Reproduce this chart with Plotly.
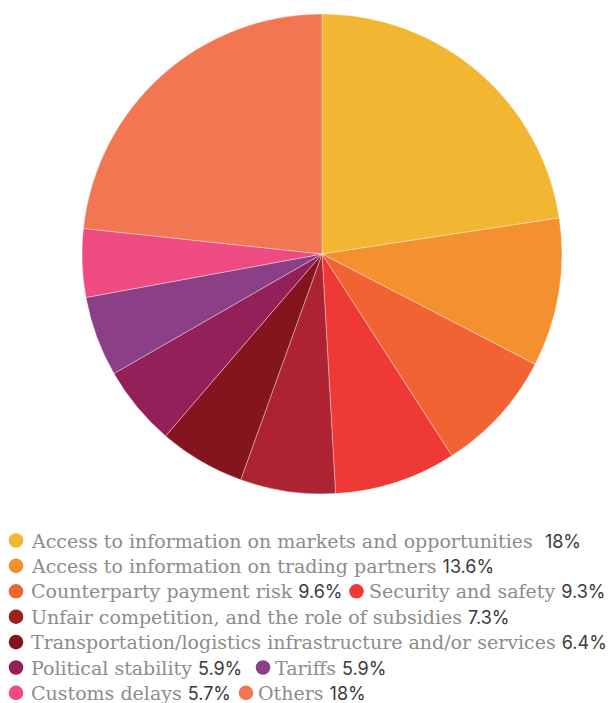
import plotly.graph_objects as go

# Data
categories = [
    "Access to information on markets and opportunities",
    "Access to information on trading partners",
    "Counterparty payment risk",
    "Security and safety",
    "Unfair competition, and the role of subsidies",
    "Transportation/logistics infrastructure and/or services",
    "Political stability",
    "Tariffs",
    "Customs delays",
    "Others",
]
# slice sizes as drawn in the picture (percent of circle)
slice_values = [22.6, 10.0, 8.3, 8.2, 6.4, 5.8, 5.4, 5.4, 4.6, 23.3]
# percentages printed in the legend
legend_labels = ["18%", "13.6%", "9.6%", "9.3%", "7.3%", "6.4%", "5.9%", "5.9%", "5.7%", "18%"]
colors = ["#F3B633", "#F59031", "#F26333", "#EF3936", "#AE2331",
          "#84151F", "#94205A", "#8A3F87", "#EE4B82", "#F27652"]
marker_colors = ["#F3B633", "#F59031", "#F26333", "#EF3936", "#A01D22",
                 "#84151F", "#94205A", "#8A3F87", "#EE4B82", "#F27652"]

W, H = 608, 703

fig = go.Figure()
fig.add_trace(go.Pie(
    labels=categories,
    values=slice_values,
    sort=False,
    direction="clockwise",
    rotation=0,
    marker=dict(colors=colors, line=dict(color="rgba(255,255,255,0.6)", width=0.6)),
    textinfo="none",
    hoverinfo="label+percent",
    showlegend=False,
    domain=dict(x=[82 / W, 562 / W], y=[1 - 494 / H, 1 - 14 / H]),
))

# legend layout: (row, marker center x, text start x) for each category
rows = [(0, 16, 29), (1, 16, 29), (2, 16, 29), (2, 356.5, 367), (3, 16, 29),
        (4, 16, 29), (5, 16, 29), (5, 263, 273), (6, 16, 29), (6, 246, 256)]
row_y0, row_dy = 540.5, 25.4
r = 7.3
label_font = "DejaVu Serif"
pct_font = "Inter"

shapes = []
annotations = []
for i, (row, cx, tx) in enumerate(rows):
    cy = row_y0 + row * row_dy
    shapes.append(dict(type="circle", xref="paper", yref="paper",
                       x0=(cx - r) / W, x1=(cx + r) / W,
                       y0=1 - (cy + r) / H, y1=1 - (cy - r) / H,
                       fillcolor=marker_colors[i], line=dict(width=0)))
    sep = "  " if i == 0 else " "
    text = (f'<span style="font-family:{label_font};color:#8c8c8c">{categories[i]}</span>'
            f'{sep}<span style="font-family:{pct_font};color:#3a3a3a;font-size:18px">{legend_labels[i]}</span>')
    annotations.append(dict(xref="paper", yref="paper", x=tx / W, y=1 - cy / H,
                            xanchor="left", yanchor="middle", showarrow=False,
                            text=text, font=dict(size=19, family=label_font, color="#8c8c8c")))

fig.update_layout(
    width=W, height=H,
    margin=dict(l=0, r=0, t=0, b=0),
    paper_bgcolor="white", plot_bgcolor="white",
    shapes=shapes, annotations=annotations,
)

fig.write_html("out.html", config={"displayModeBar": False},
               post_script="document.body.style.margin='0';")
